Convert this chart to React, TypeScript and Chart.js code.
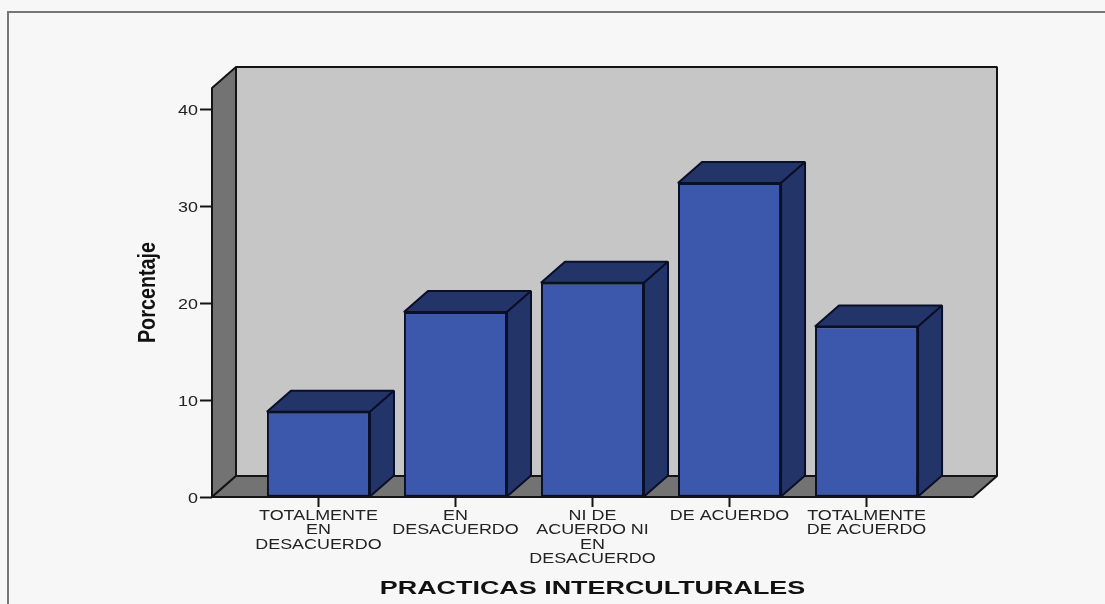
import React, { useEffect, useRef } from "react";
import { Chart, registerables } from "chart.js";

Chart.register(...registerables);

const categories = [
  ["TOTALMENTE", "EN", "DESACUERDO"],
  ["EN", "DESACUERDO"],
  ["NI DE", "ACUERDO NI", "EN", "DESACUERDO"],
  ["DE ACUERDO"],
  ["TOTALMENTE", "DE ACUERDO"],
];
const percentages = [8.8, 19.1, 22.1, 32.4, 17.6];
const yTicks = [0, 10, 20, 30, 40];

const DEPTH_X = 24;
const DEPTH_Y = 21;
const PAGE = "#f7f7f7";
const FRAME = "#777777";
const LINE = "#141414";
const BACK_WALL = "#c6c6c6";
const SIDE_WALL = "#737373";
const BAR_FRONT = "#3c58ac";
const BAR_SHADE = "#233469";
const BAR_EDGE = "#0a0f28";
const TEXT = "#222222";

function polygon(ctx: CanvasRenderingContext2D, pts: number[][], fill: string, stroke: string) {
  ctx.beginPath();
  pts.forEach(([x, y], i) => (i ? ctx.lineTo(x, y) : ctx.moveTo(x, y)));
  ctx.closePath();
  ctx.fillStyle = fill;
  ctx.fill();
  ctx.lineWidth = 2;
  ctx.strokeStyle = stroke;
  ctx.lineJoin = "bevel";
  ctx.stroke();
}

// Runs a drawing routine with every fillText stretched along its baseline.
function withWideText(ctx: CanvasRenderingContext2D, sx: number, draw: () => void) {
  const original = ctx.fillText;
  ctx.fillText = function (text: string, x: number, y: number) {
    ctx.save();
    ctx.translate(x, y);
    ctx.scale(sx, 1);
    original.call(ctx, text, 0, 0);
    ctx.restore();
  } as typeof ctx.fillText;
  try {
    draw();
  } finally {
    delete (ctx as any).fillText;
  }
}

function widenScale(scale: any, labelStretch: number, titleStretch: number) {
  if (scale.__wide) return;
  scale.__wide = true;
  const ctx = scale.ctx;
  const drawLabels = scale.drawLabels.bind(scale);
  const drawTitle = scale.drawTitle.bind(scale);
  scale.drawLabels = (a: any) => withWideText(ctx, labelStretch, () => drawLabels(a));
  scale.drawTitle = (a: any) => withWideText(ctx, titleStretch, () => drawTitle(a));
}

const box3d = {
  id: "box3d",
  afterLayout(chart: any) {
    widenScale(chart.scales.x, 1.28, 1.416);
    widenScale(chart.scales.y, 1.28, 0.86);
  },
  beforeDraw(chart: any) {
    const { ctx, chartArea: a, width, height } = chart;
    ctx.save();
    ctx.fillStyle = PAGE;
    ctx.fillRect(0, 0, width, height);
    ctx.strokeStyle = FRAME;
    ctx.lineWidth = 2;
    ctx.beginPath();
    ctx.moveTo(8, height);
    ctx.lineTo(8, 12);
    ctx.lineTo(width, 12);
    ctx.stroke();

    const [l, r, t, b] = [a.left, a.right, a.top, a.bottom];
    const [dx, dy] = [DEPTH_X, DEPTH_Y];
    polygon(ctx, [[l + dx, t - dy], [r + dx, t - dy], [r + dx, b - dy], [l + dx, b - dy]], BACK_WALL, LINE);
    polygon(ctx, [[l, t], [l + dx, t - dy], [l + dx, b - dy], [l, b]], SIDE_WALL, LINE);
    polygon(ctx, [[l, b], [l + dx, b - dy], [r + dx, b - dy], [r, b]], SIDE_WALL, LINE);
    ctx.restore();
  },
  beforeDatasetsDraw(chart: any) {
    const ctx = chart.ctx;
    ctx.save();
    for (const bar of chart.getDatasetMeta(0).data) {
      const { x, y, width, base } = bar.getProps(["x", "y", "width", "base"], true);
      const [l, r] = [x - width / 2, x + width / 2];
      polygon(ctx, [[l, y], [l + DEPTH_X, y - DEPTH_Y], [r + DEPTH_X, y - DEPTH_Y], [r, y]], BAR_SHADE, BAR_EDGE);
      polygon(ctx, [[r, y], [r + DEPTH_X, y - DEPTH_Y], [r + DEPTH_X, base - DEPTH_Y], [r, base]], BAR_SHADE, BAR_EDGE);
    }
    ctx.restore();
  },
};

export default function App() {
  const ref = useRef<HTMLCanvasElement>(null);
  useEffect(() => {
    const chart = new Chart(ref.current!, {
      type: "bar",
      data: {
        datasets: [
          {
            data: percentages.map((y, x) => ({ x, y })),
            backgroundColor: BAR_FRONT,
            borderColor: BAR_EDGE,
            borderWidth: 2,
            borderSkipped: false,
            categoryPercentage: 1,
            barPercentage: 0.752,
          },
        ],
      },
      options: {
        responsive: false,
        animation: false,
        layout: { padding: { left: 135, top: 88, right: 132, bottom: 4 } },
        plugins: { legend: { display: false }, tooltip: { enabled: false } },
        scales: {
          x: {
            type: "linear",
            offset: false,
            min: -0.777,
            max: 4.777,
            afterBuildTicks: (s: any) => {
              s.ticks = categories.map((_, value) => ({ value }));
            },
            afterFit: (s: any) => {
              s.height = 103;
            },
            grid: { offset: false, drawOnChartArea: false, tickLength: 10, tickColor: LINE, tickWidth: 2 },
            border: { display: false },
            ticks: {
              autoSkip: false,
              maxRotation: 0,
              padding: 2,
              color: TEXT,
              font: { family: "Liberation Sans", size: 14, lineHeight: 1.02 },
              callback: (v: any) => categories[v],
            },
            title: {
              display: true,
              text: "PRACTICAS INTERCULTURALES",
              color: "#111111",
              font: { family: "Liberation Sans", size: 19, weight: "bold" },
              padding: 0,
            },
          },
          y: {
            min: 0,
            max: 42.2,
            afterBuildTicks: (s: any) => {
              s.ticks = yTicks.map((value) => ({ value }));
            },
            afterFit: (s: any) => {
              s.width = 77;
            },
            grid: { drawOnChartArea: false, tickLength: 12, tickColor: LINE, tickWidth: 2 },
            border: { display: false },
            ticks: {
              padding: 2,
              labelOffset: 2,
              color: TEXT,
              font: { family: "Liberation Sans", size: 14 },
            },
            title: {
              display: true,
              text: "Porcentaje",
              color: "#111111",
              font: { family: "Liberation Sans", size: 23, weight: "bold" },
              padding: 0,
            },
          },
        },
      },
      plugins: [box3d],
    } as any);
    return () => chart.destroy();
  }, []);
  return (
    <canvas
      ref={ref}
      width={1105}
      height={604}
      style={{ position: "absolute", left: 0, top: 0, display: "block" }}
    />
  );
}
